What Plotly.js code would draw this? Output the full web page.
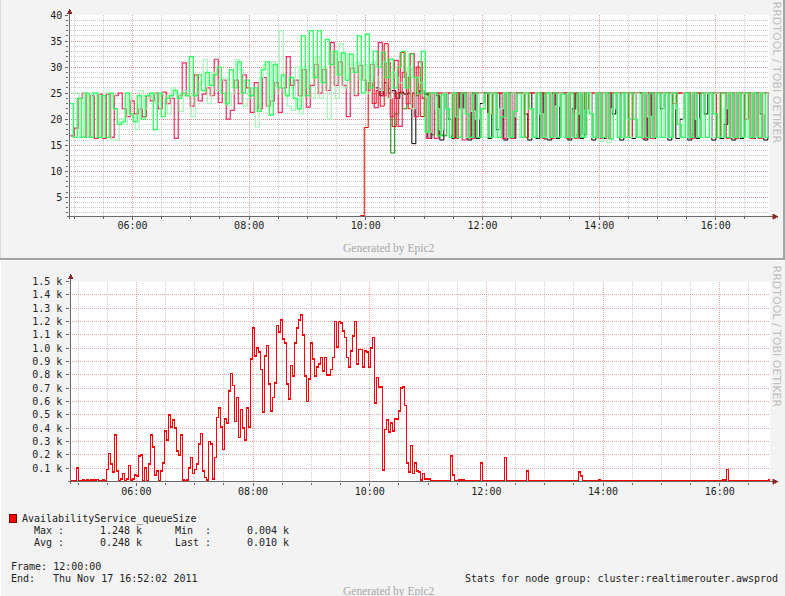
<!DOCTYPE html>
<html><head><meta charset="utf-8">
<script src="https://cdn.plot.ly/plotly-3.0.1.min.js"></script>
<style>
html,body{margin:0;padding:0;background:#f3f3f3;}
#chart .subplot.x2y2 .scatterlayer path, #chart .gridlayer path, #chart .shapelayer path, #chart .xaxislayer-above path, #chart .yaxislayer-above path, #chart .minor-gridlayer path {shape-rendering:crispEdges;}
</style></head><body>
<div id="chart" style="width:785px;height:596px"></div>
<script>
// ---------- DATA ----------
// Upper chart: step series, one value per ~4.1 min, starting 04:55
const TOP_GREEN = [23,16.5,24,16.5,25,16.5,25,16.5,24.5,16.5,25,
 22,19,19.5,25,21,19.5,
 24.5,20,24.5,25,18,25,20.5,24,24.5,25.5,24,25,24.5,
 32,24.5,28.5,25.5,29,26.5,28.5,30,25,23,29.5,26,31,25,27.5,24.5,
 26,21.5,29.5,31,20.8,30.5,26,28.5,24.5,28,24,22,36,24.5,37,28,37,27,35.3,30.5,33,28.5,32.7,27.5,32.5,29,36,25,36.3,26,33,30,32.8,28,31.5,26,30,
 33,26,32.5,28,25,33,
 17.5,25,25,16.8,24.8,22,16.5,25,16.5,25,
 21,16.5,25,16.5,22,25,16.5,25,16.5,20.5,
 25,16.5,21.5,25,16.5,25,22,16.5,25,16.5,
 25,16.5,25,16.5,24.8,16.5,25,16.5,25,16.5,
 25,21,16.5,25,16.5,25,16.2,25,16.5,25,
 16.5,25,20,16.5,25,16.5,25,16.5,25,16.5,
 25,16.5,25,19,16.5,25,16.5,25,16.5,25,
 16.5,25,21,16.5,25,16.5,25,16.5,25,16.5,
 25,16.5,25,16.5,25,16.5];
const TOP_LIGHTGREEN = [25,25,16.5,25,16.5,25,25,16.5,25,25,16,
 16,20,19,25,20.5,18,
 25.5,22,24,25,23,25,24.5,21,26,25,21.5,25.5,24.5,
 20.5,25,27,31.5,23,29,25.5,27.5,28,22.5,25,31.5,29.5,22.5,24,26,
 18.5,28,30.5,22.5,31,25,37,25,22.5,21.7,30,21,30,26,24,32,24,30,20,33,24,34.5,26,32.5,25,31,27.5,30.5,25,31,28,25.5,31,24,29,28,27,
 26,30,22,28,27,24.5,
 17.5,25,22,18,25,17,25,20.5,22,16.5,
 25,21.5,20,25,16.5,21,25,16.5,22,25,
 16.5,25,20.5,16.5,25,22,16.5,25,21,16.5,
 25,16.5,22.5,25,16.5,25,16.5,21,25,16.5,
 25,16.5,25,15.8,25,15.5,22,25,16.5,25,
 20,16.5,25,16.5,25,20.5,16.5,25,16.5,25,
 16.5,25,22,16.5,25,16.5,25,20,16.5,25,
 25,16.5,25,16.5,22,25,16.5,25,16.5,25,
 16.5,25,16.5,25,16.5,25];
const TOP_CRIMSON = [16.8,18.3,24,25,16.5,24.5,16.3,24.8,16.3,24.8,16.5,
 24.5,25,22,20.5,23.5,21,
 22,20.5,24.5,23.5,25,22,25.2,23,24,16.3,24.5,30.8,24.5,
 22.5,28.5,23.5,24.8,26,24.5,31.5,23.2,27.5,20,21.7,27.5,23,28.5,26,21.3,
 27,22,28,22.5,23.5,27,21.3,26,32,26.5,27.5,24.5,29.5,22.3,26.5,30.5,25,29.5,25.5,34.7,26.5,31,26.5,20.5,29.8,24.5,30.3,27.5,25.5,30.5,22.2,34.7,24.5,30.8,20.5,31.3,18.6,
 29,23,32.6,20.5,31,24,
 16.3,25,16.3,25, 25,25,25, 16.3,25,16,25,16.3,
 25,25,25,25,25,25,25, 16.3,25,16.3,25, 25,25,25,25,25,25,
 16.3,25,16.3,25, 25,25, 16.3,25,16.3, 25,25,25,25,25,
 16.3,25,16.3, 25,25,25,25,25,25,25,25, 16.3,25,16.3,
 25,25,25,25,25,25,25,25,25, 16.3,25, 25,25,25,25,25,25,25,
 16.3,25,16.3, 25,25,25, 16.3,25,16.3,25, 25];
const TOP_RED_START = 72;
const TOP_RED = [1.5,18.4,27,23,25.5,22.5,34.5,24,18.6,25,32.8,28,22,25,30,20.5,24.5,
 25,25,25,25,25,25,16.5,25,25,25,
 25,25,25,25,25,21,25,25,25,25,
 25,25,25,25,16.5,25,25,25,25,25,
 25,25,25,25,25,25,25,25,25,22,
 25,25,25,25,25,25,25,25,25,25,
 16.5,25,25,25,25,25,25,25,25,25,
 25,23,25,25,25,25,25,25,25,25,
 25,25,16.5,25,25,25,25,25,25,20,
 25,25,25,25,25,25];
const TOP_BLACK_START = 76;
const TOP_BLACK = [26,24.5,27,25,25.5,24,25.2,24.8,25,15.3,25,25.5,24.8,
 16.3,25,24.5,16,25,20,16.3,25,22,25,
 16,25,16.3,23,25,16.3,25,18,25,16,
 25,16.3,25,25,21,16,25,16.3,25,16.2,
 16,25,16.3,25,25,16,22,25,16.3,25,
 25,16,25,16.3,16.3,25,21,25,16,25,
 20,16.3,25,25,16,25,16.3,25,22,25,
 16,25,16.3,20,25,16,25,16.3,25,21,
 25,16,25,16.3,19,25,16,25,16.3,25,
 25,16.3,25,21,16,25];
const TOP_DARKGREEN_START = 79;
const TOP_DARKGREEN = [25.8,13.5,21,25,22,28,25,24.5,25,25,
 25,17,25,17,16.8,25,25,25,25,25,
 25,25,25,25,25,25,25,25,25,25,
 25,25,25,25,25,25,25,25,25,25,
 25,25,25,25,25,25,25,17,25,17,
 25,25,25,25,25,25,25,25,25,25,
 25,25,25,25,25,25,25,25,25,25,
 25,25,25,25,25,25,17,25,25,25,
 25,25,25,25,25,25,25,25,25,25,
 25,25,25,25,25,25];
const TOP_TICK_VALS = [5,10,15,20,25,30,35,40];
const TOP_TICK_TEXT = ['5','10','15','20','25','30','35','40'];

// Lower chart: AvailabilityService_queueSize (k), one value per ~2.06 min, starting 04:52:02
const QUEUE_SIZE = [
 0.004,0.004,0.004,0.1,0.004,0.004,0.01,0.004,0.01,0.004,
 0.01,0.01,0.01,0.015,0.004,0.004,0.01,0.004,0.09,0.21,
 0.13,0.07,0.35,0.08,0.004,0.02,0.06,0.004,0.02,0.12,
 0.01,0.02,0.05,0.04,0.19,0.2,0.004,0.1,0.004,0.13,
 0.35,0.26,0.05,0.08,0.004,0.08,0.14,0.38,0.31,0.5,
 0.41,0.46,0.4,0.23,0.2,0.35,0.01,0.004,0.01,0.1,
 0.18,0.06,0.09,0.13,0.28,0.36,0.08,0.03,0.01,0.3,
 0.28,0.02,0.18,0.48,0.55,0.41,0.24,0.47,0.44,0.68,
 0.81,0.72,0.45,0.63,0.33,0.54,0.4,0.31,0.55,0.41,
 0.92,1.15,0.94,1.0,0.97,0.84,0.52,0.94,1.02,0.73,
 0.53,0.63,0.74,1.17,1.12,1.21,1.07,1.04,0.73,0.62,
 0.87,0.79,1.04,1.15,1.21,1.25,1.1,0.79,0.6,0.77,
 1.04,0.92,0.79,0.86,0.88,0.93,0.83,0.93,0.8,0.8,
 0.84,0.93,1.2,1.01,1.2,1.19,1.13,1.08,0.93,0.86,
 0.98,1.09,1.2,0.88,0.99,0.99,0.86,0.98,0.97,0.86,
 1.0,1.08,0.59,0.78,0.71,0.71,0.086,0.39,0.46,0.37,
 0.44,0.38,0.47,0.47,0.53,0.7,0.71,0.57,0.14,0.07,
 0.27,0.06,0.14,0.08,0.07,0.01,0.06,0.02,0.02,0.02,
 0.004,0.004,0.004,0.004,0.004,0.004,0.006,0.004,0.004,0.004,
 0.19,0.05,0.004,0.004,0.01,0.01,0.01,0.004,0.004,0.004,
 0.004,0.004,0.004,0.004,0.004,0.14,0.004,0.004,0.004,0.004,
 0.004,0.004,0.004,0.004,0.004,0.004,0.004,0.18,0.004,0.004,
 0.004,0.004,0.004,0.004,0.004,0.004,0.004,0.004,0.08,0.004,
 0.004,0.004,0.004,0.004,0.004,0.004,0.004,0.004,0.004,0.004,
 0.004,0.004,0.004,0.004,0.004,0.004,0.004,0.004,0.004,0.004,
 0.004,0.004,0.004,0.004,0.07,0.04,0.004,0.004,0.004,0.004,
 0.004,0.004,0.004,0.004,0.01,0.004,0.004,0.004,0.004,0.004,
 0.004,0.004,0.004,0.004,0.004,0.004,0.004,0.004,0.004,0.004,
 0.004,0.004,0.004,0.004,0.004,0.004,0.004,0.004,0.004,0.004,
 0.004,0.004,0.004,0.004,0.004,0.004,0.004,0.006,0.006,0.006,
 0.006,0.004,0.006,0.006,0.006,0.006,0.006,0.006,0.004,0.004,
 0.004,0.004,0.004,0.004,0.004,0.004,0.004,0.004,0.004,0.004,
 0.004,0.004,0.004,0.004,0.004,0.004,0.01,0.01,0.09,0.004,
 0.004,0.004,0.004,0.004,0.004,0.004,0.004,0.004,0.004,0.004,
 0.004,0.004,0.004,0.004,0.004,0.004,0.004,0.004,0.004,0.01];
const BOTTOM_TICK_VALS = [0.1,0.2,0.3,0.4,0.5,0.6,0.7,0.8,0.9,1.0,1.1,1.2,1.3,1.4,1.5];
const BOTTOM_TICK_TEXT = ['0.1 k','0.2 k','0.3 k','0.4 k','0.5 k','0.6 k','0.7 k','0.8 k','0.9 k','1.0 k','1.1 k','1.2 k','1.3 k','1.4 k','1.5 k'];

const LEGEND_NAME = 'AvailabilityService_queueSize';
const STATS = {max:'1.248 k', min:'0.004 k', avg:'0.248 k', last:'0.010 k'};
const FRAME_TEXT = 'Frame: 12:00:00';
const END_DATE = 'Thu Nov 17 16:52:02 2011';
const NODE_GROUP = 'Stats for node group: cluster:realtimerouter.awsprod';

// ---------- helpers ----------
const W = 785, H = 596;
const px = v => v / W;
const py = v => 1 - v / H;
function fmt(ms){ return new Date(ms).toISOString().replace('T',' ').replace('Z',''); }
const MIN = 60000;
const TOP_START = Date.UTC(2011,10,17,4,55,0);
const TOP_END = TOP_START + 12*3600*1000;
const TOP_STEP = 12*3600*1000 / 175;
const BOT_START = Date.UTC(2011,10,17,4,52,2);
const BOT_END = BOT_START + 12*3600*1000;
const BOT_STEP = 12*3600*1000 / 350;
// each host samples at its own moment inside the step
const PHASE = {green:0, light:2*MIN, crimson:1*MIN, red:3*MIN, black:2.6*MIN, dark:1.5*MIN};
function steps(start, step, vals, offset){
  const xs=[], ys=[];
  for(let i=0;i<=vals.length;i++){
    const t = Math.min(start + (offset+i)*step, TOP_END);
    xs.push(fmt(t));
    ys.push(vals[Math.min(i, vals.length-1)]);
  }
  return {x:xs, y:ys};
}
function trace(d, color, width, xa, ya){
  return {x:d.x, y:d.y, type:'scatter', mode:'lines', xaxis:xa, yaxis:ya,
    line:{shape:'hv', color:color, width:width, simplify:false}, hoverinfo:'skip'};
}
const data = [
  trace(steps(TOP_START+PHASE.black, TOP_STEP, TOP_BLACK, TOP_BLACK_START), '#000000', 1, 'x', 'y'),
  trace(steps(TOP_START+PHASE.dark, TOP_STEP, TOP_DARKGREEN, TOP_DARKGREEN_START), '#008a00', 1, 'x', 'y'),
  trace(steps(TOP_START+PHASE.red, TOP_STEP, TOP_RED, TOP_RED_START), '#ff0000', 1, 'x', 'y'),
  trace(steps(TOP_START+PHASE.crimson, TOP_STEP, TOP_CRIMSON, 0), '#ff2a60', 1.2, 'x', 'y'),
  trace(steps(TOP_START+PHASE.light, TOP_STEP, TOP_LIGHTGREEN, 0), '#a2f6b8', 1.2, 'x', 'y'),
  trace(steps(TOP_START+PHASE.green, TOP_STEP, TOP_GREEN, 0), '#2aff5c', 1.3, 'x', 'y'),
  trace(steps(BOT_START, BOT_STEP, QUEUE_SIZE, 0), '#ff0000', 1.5, 'x2', 'y2')
];

const MAJOR = 'rgba(225,90,90,0.55)';
const MINORC = 'rgba(140,140,140,0.45)';
const TICKFONT = {family:'DejaVu Sans Mono', size:10, color:'#222'};
function xax(domain, range, anchor){
  return {domain:domain, anchor:anchor, type:'date', range:range, tick0:'2011-11-17 00:00:00', dtick:7200000,
    tickformat:'%H:%M', showgrid:true, gridcolor:MAJOR, griddash:'1px,1px', gridwidth:1,
    ticks:'outside', ticklen:3, tickcolor:'#666', tickfont:TICKFONT, showline:false, zeroline:false,
    ticklabelstandoff:-3, fixedrange:true,
    minor:{dtick:1800000, showgrid:true, gridcolor:MINORC, griddash:'1px,1px', ticks:'outside', ticklen:2, tickcolor:'#666'}};
}
const layout = {
  width:W, height:H, margin:{l:0,r:0,t:0,b:0}, showlegend:false,
  paper_bgcolor:'#f3f3f3', plot_bgcolor:'#ffffff',
  xaxis: xax([px(69.3), px(769.3)], [fmt(TOP_START), fmt(TOP_END)], 'y'),
  yaxis: {domain:[py(216), py(15)], range:[1.41,40], anchor:'x', tickvals:TOP_TICK_VALS, ticktext:TOP_TICK_TEXT,
    showgrid:true, gridcolor:MAJOR, griddash:'1px,1px', ticks:'outside', ticklen:3, tickcolor:'#666',
    tickfont:TICKFONT, zeroline:false, showline:false, ticklabelstandoff:1, fixedrange:true,
    minor:{tick0:0, dtick:1, showgrid:true, gridcolor:MINORC, griddash:'1px,1px', ticks:'outside', ticklen:2, tickcolor:'#666'}},
  xaxis2: xax([px(70.3), px(770.3)], [fmt(BOT_START), fmt(BOT_END)], 'y2'),
  yaxis2: {domain:[py(481.5), py(281.5)], range:[0,1.5], anchor:'x2', tickvals:BOTTOM_TICK_VALS, ticktext:BOTTOM_TICK_TEXT,
    showgrid:true, gridcolor:MAJOR, griddash:'1px,1px', ticks:'outside', ticklen:3, tickcolor:'#666',
    tickfont:TICKFONT, zeroline:false, showline:false, ticklabelstandoff:2, fixedrange:true},
  shapes:[], annotations:[]
};
const S = layout.shapes, A = layout.annotations;
function line(x0,y0,x1,y1,color,w){ S.push({type:'line', xref:'paper', yref:'paper', x0:px(x0), y0:py(y0), x1:px(x1), y1:py(y1), line:{color:color, width:w}}); }
function tri(path, color){ S.push({type:'path', xref:'paper', yref:'paper', path:path, fillcolor:color, line:{color:color, width:0.5}}); }
function triPath(pts){ return 'M ' + pts.map(p => px(p[0]) + ',' + py(p[1])).join(' L ') + ' Z'; }
// panel borders
line(0, 258.5, 785, 258.5, '#a3a3a3', 2);
line(783.5, 0, 783.5, 258, '#a3a3a3', 2);
line(0.5, 0, 0.5, 258, '#d8d8d8', 1);
line(0, 260.5, 785, 260.5, '#ffffff', 1.5);
line(0.5, 261, 0.5, 596, '#ffffff', 1);
// axes top
const AX = '#6a6a6a', ARROW = '#8e2424';
line(69.5, 219, 69.5, 13, AX, 1);
line(66.5, 216.5, 773, 216.5, AX, 1);
tri(triPath([[69.5,8.5],[67,13.5],[72,13.5]]), ARROW);
tri(triPath([[777.5,216.5],[772.5,214],[772.5,219]]), ARROW);
// axes bottom
line(70.5, 484, 70.5, 278, AX, 1);
line(67.5, 481.5, 773, 481.5, AX, 1);
tri(triPath([[70.5,273.5],[68,278.5],[73,278.5]]), ARROW);
tri(triPath([[777.5,481.5],[772.5,479],[772.5,484]]), ARROW);
// legend swatch
S.push({type:'rect', xref:'paper', yref:'paper', x0:px(9), x1:px(16.5), y0:py(522), y1:py(514.5), fillcolor:'#ff0000', line:{color:'#7a0000', width:1}});

function txt(x, y, t, opts){
  A.push(Object.assign({xref:'paper', yref:'paper', x:px(x), y:py(y), text:t, showarrow:false,
    xanchor:'left', yanchor:'middle', borderpad:0, font:{family:'DejaVu Sans Mono', size:10, color:'#222'}}, opts||{}));
}
const NB = '\u00a0';
txt(21, 518.5, LEGEND_NAME);
txt(33, 530, 'Max' + NB + ':');
txt(99, 530, STATS.max);
txt(173.5, 530, 'Min' + NB + NB + ':');
txt(245.5, 530, STATS.min);
txt(33, 542, 'Avg' + NB + ':');
txt(99, 542, STATS.avg);
txt(173.5, 542, 'Last' + NB + ':');
txt(245.5, 542, STATS.last);
txt(9.5, 566.5, FRAME_TEXT);
txt(9.5, 578, 'End:');
txt(51.5, 578, END_DATE);
txt(779, 578, NODE_GROUP, {xanchor:'right'});
const GEN = {family:'Liberation Serif, DejaVu Serif, serif', size:11.5, color:'#a8a8a8'};
txt(389, 248, 'Generated by Epic2', {xanchor:'center', font:GEN});
txt(389, 591, 'Generated by Epic2', {xanchor:'center', font:GEN});
const WM = {family:'DejaVu Sans', size:11, color:'#bebebe'};
txt(776.5, 72, 'RRDTOOL / TOBI OETIKER', {xanchor:'center', textangle:90, font:WM});
txt(776.5, 336, 'RRDTOOL / TOBI OETIKER', {xanchor:'center', textangle:90, font:WM});

Plotly.newPlot('chart', data, layout, {staticPlot:true, displayModeBar:false});
</script></body></html>
